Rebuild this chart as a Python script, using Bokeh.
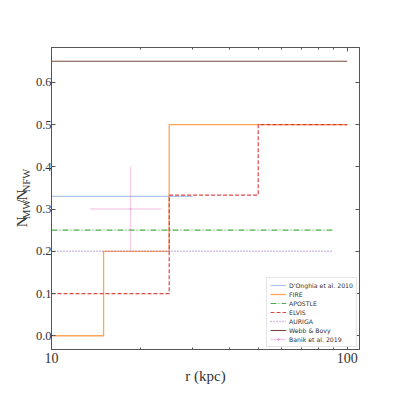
import math
from bokeh.plotting import figure
from bokeh.layouts import row
from bokeh.models import (Range1d, FixedTicker, LinearAxis, LogAxis,
                          PrintfTickFormatter, Legend, LegendItem)
from bokeh.core.properties import value
from bokeh.embed import file_html
from bokeh.resources import INLINE

# ---- data ----
fire_r = [10, 15, 25, 100]
fire_n = [0.0, 0.2, 0.5, 0.5]
elvis_r = [10, 25, 50, 100]
elvis_n = [0.1, 0.333, 0.5, 0.5]
donghia_r = [10, 30]
donghia_n = [0.33, 0.33]
apostle_r = [10, 89]
apostle_n = [0.25, 0.25]
auriga_r = [10, 89]
auriga_n = [0.2, 0.2]
webb_r = [10, 100]
webb_n = [0.65, 0.65]
banik_r = [18.5]
banik_n = [0.3]
banik_rerr = [5.0]
banik_nerr = [0.1]
y_ticks = [0.0, 0.1, 0.2, 0.3, 0.4, 0.5, 0.6]
x_major = [10, 100]
x_minor = [20, 30, 40, 50, 60, 70, 80, 90]
ylabel_parts = ["N", "MW", "/", "N", "NFW"]
ylabel_is_sub = [False, True, False, False, True]

SERIF = "Liberation Serif"
H = 395
LW = 32                        # width of the strip holding the y-axis title
W = 395 - LW
FL, FT, FR, FB = 50 - LW, 47, 359 - LW, 349   # frame edges in main canvas pixels
XLO, XHI, YLO, YHI = 10, 110, -0.0325, 0.6825

# ---- left strip with the y-axis title (subscript pieces as real text) ----
lf = figure(width=LW, height=H, x_range=Range1d(0, LW), y_range=Range1d(0, H),
            output_backend="svg", toolbar_location=None,
            x_axis_location=None, y_axis_location=None,
            min_border=0, min_border_left=0, min_border_right=0,
            min_border_top=0, min_border_bottom=0)
lf.xgrid.visible = False
lf.ygrid.visible = False
lf.outline_line_color = None
lf.background_fill_color = "white"
lf.border_fill_color = "white"

widths = {"N": 0.722, "MW": 1.833, "/": 0.278, "NFW": 2.222}
ypos = 235.0
for txt, sub in zip(ylabel_parts, ylabel_is_sub):
    fs = 10.5 if sub else 15
    bx = 25.5 if sub else 21.0
    lf.text(x=[bx], y=[H - ypos], text=[txt], angle=math.pi / 2,
            text_font=value(SERIF), text_font_size=value(f"{fs}px"),
            text_color="#333333", text_align="left", text_baseline="alphabetic")
    ypos -= fs * widths[txt] + (0.6 if sub else 0.0)

# ---- main plot ----
p = figure(width=W, height=H, x_axis_type="log",
           x_range=Range1d(XLO, XHI), y_range=Range1d(YLO, YHI),
           output_backend="svg", toolbar_location=None,
           min_border_left=FL, min_border_right=W - FR,
           min_border_top=FT, min_border_bottom=H - FB)
p.xgrid.visible = False
p.ygrid.visible = False
p.background_fill_color = "white"
p.border_fill_color = "white"
p.outline_line_color = "#555555"

axcol = "#555555"
xt = FixedTicker(ticks=x_major, minor_ticks=x_minor)
yt = FixedTicker(ticks=y_ticks, minor_ticks=[])

def style(ax, labels=True):
    ax.axis_line_color = axcol
    ax.major_tick_line_color = axcol
    ax.minor_tick_line_color = axcol
    ax.major_tick_in = 4
    ax.major_tick_out = 0
    ax.minor_tick_in = 2
    ax.minor_tick_out = 0
    ax.major_label_text_font = SERIF
    ax.major_label_text_font_size = "14px"
    ax.major_label_text_color = "#333333"
    ax.major_label_standoff = 3
    if not labels:
        ax.major_label_text_font_size = "6px"
        ax.major_label_text_alpha = 0.0
        ax.major_label_standoff = 0

xa = p.xaxis[0]
xa.ticker = xt
xa.formatter = PrintfTickFormatter(format="%d")
style(xa)
xa.axis_label = "r (kpc)"
xa.axis_label_text_font = SERIF
xa.axis_label_text_font_style = "normal"
xa.axis_label_text_font_size = "15px"
xa.axis_label_text_color = "#333333"
xa.axis_label_standoff = 2

ya = p.yaxis[0]
ya.ticker = yt
ya.formatter = PrintfTickFormatter(format="%.1f")
style(ya)
ya.major_label_text_font_size = "12.5px"
ya.major_label_standoff = 0

top = LogAxis(ticker=xt, formatter=PrintfTickFormatter(format="%d"))
style(top, labels=False)
p.add_layout(top, "above")
right = LinearAxis(ticker=yt, formatter=PrintfTickFormatter(format="%.1f"))
style(right, labels=False)
p.add_layout(right, "right")

# ---- glyphs ----
r_don = p.line(donghia_r, donghia_n, line_color="#aec7e8", line_width=1.2)
r_fire = p.step(fire_r, fire_n, mode="after", line_color="#ff7f0e", line_alpha=0.7, line_width=1.3)
r_apo = p.line(apostle_r, apostle_n, line_color="#2ca02c", line_alpha=0.85, line_width=1.2, line_dash="6 2 1 2")
r_elv = p.step(elvis_r, elvis_n, mode="after", line_color="#d62728", line_alpha=0.85, line_width=1.2, line_dash="4 2")
r_aur = p.line(auriga_r, auriga_n, line_color="#9467bd", line_alpha=0.8, line_width=1.4, line_dash="1 2")
r_web = p.line(webb_r, webb_n, line_color="#7a4a40", line_width=1.1)

bx0 = [r - e for r, e in zip(banik_r, banik_rerr)]
bx1 = [r + e for r, e in zip(banik_r, banik_rerr)]
by0 = [n - e for n, e in zip(banik_n, banik_nerr)]
by1 = [n + e for n, e in zip(banik_n, banik_nerr)]
r_bh = p.segment(bx0, banik_n, bx1, banik_n, line_color="#e377c2", line_alpha=0.35, line_width=1.5)
r_bv = p.segment(banik_r, by0, banik_r, by1, line_color="#e377c2", line_alpha=0.35, line_width=1.5)
r_bm = p.scatter(banik_r, banik_n, marker="cross", size=1, line_color="#e377c2", line_alpha=0.6, line_width=1.2)

legend = Legend(items=[
    LegendItem(label="D'Onghia et al. 2010", renderers=[r_don]),
    LegendItem(label="FIRE", renderers=[r_fire]),
    LegendItem(label="APOSTLE", renderers=[r_apo]),
    LegendItem(label="ELVIS", renderers=[r_elv]),
    LegendItem(label="AURIGA", renderers=[r_aur]),
    LegendItem(label="Webb & Bovy", renderers=[r_web]),
    LegendItem(label="Banik et al. 2019", renderers=[r_bh, r_bm]),
], location="bottom_right")
legend.label_text_font = "DejaVu Sans"
legend.label_text_font_size = "6.2px"
legend.label_text_color = "#333333"
legend.label_height = 8
legend.glyph_height = 8
legend.glyph_width = 16
legend.label_standoff = 3
legend.spacing = 1
legend.padding = 3
legend.margin = 2
legend.border_line_color = "#cccccc"
legend.background_fill_alpha = 0.85
p.add_layout(legend)

layout = row(lf, p, spacing=0)
open("out.html", "w").write(file_html(layout, INLINE))
